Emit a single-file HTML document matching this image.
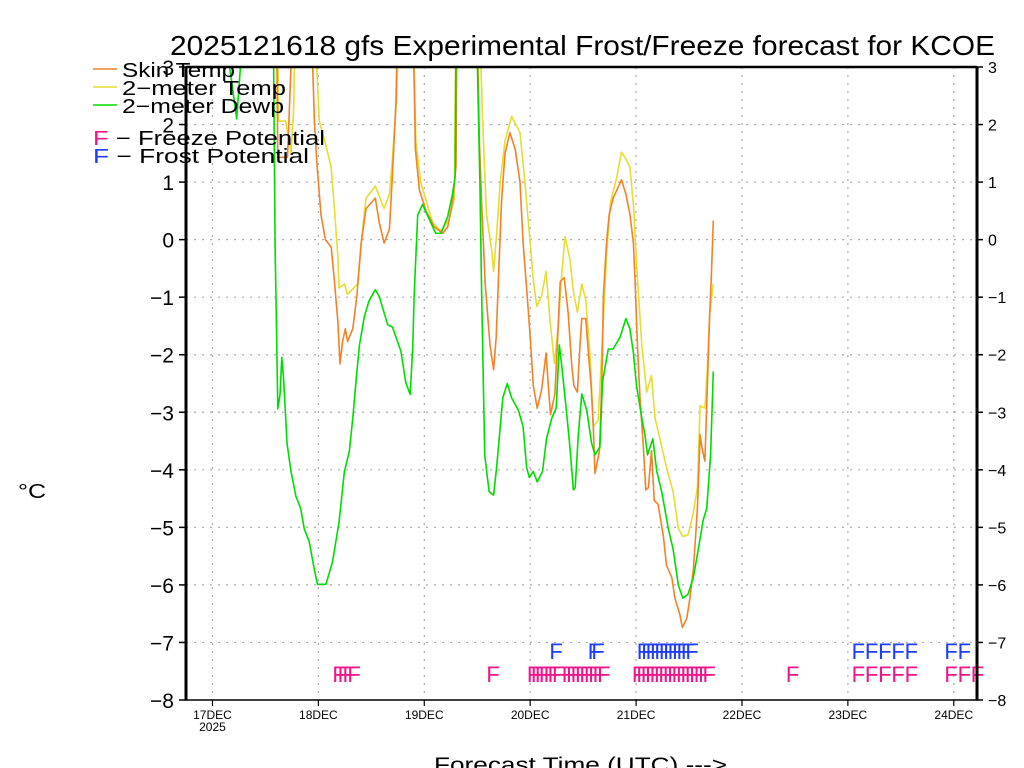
<!DOCTYPE html>
<html><head><meta charset="utf-8"><style>
html,body{margin:0;padding:0;background:#fff;}
svg{display:block;font-family:"Liberation Sans",sans-serif;}
</style></head><body>
<svg id="chart" width="1024" height="768" viewBox="0 0 1024 768">
<defs><clipPath id="plotclip"><rect x="186" y="67" width="791" height="633"/></clipPath></defs>
<text x="170" y="55" font-size="28" textLength="825" lengthAdjust="spacingAndGlyphs">2025121618 gfs Experimental Frost/Freeze forecast for KCOE</text>
<g id="grid"></g>
<g id="series" clip-path="url(#plotclip)"></g>
<g id="markers"></g>
<g id="axes"></g>
<text x="18" y="498" font-size="20" textLength="28" lengthAdjust="spacingAndGlyphs">°C</text>
<text x="434" y="772" font-size="21" textLength="293" lengthAdjust="spacingAndGlyphs">Forecast Time (UTC) ---&gt;</text>
<g>
<line x1="93" y1="69" x2="117" y2="69" stroke="#f08228" stroke-width="1.5"/>
<text x="122" y="77" font-size="20" textLength="113" lengthAdjust="spacingAndGlyphs">Skin Temp</text>
<line x1="93" y1="87" x2="117" y2="87" stroke="#e6dc32" stroke-width="1.5"/>
<text x="122" y="95" font-size="20" textLength="164" lengthAdjust="spacingAndGlyphs">2−meter Temp</text>
<line x1="93" y1="105" x2="117" y2="105" stroke="#00dc00" stroke-width="1.5"/>
<text x="122" y="113" font-size="20" textLength="162" lengthAdjust="spacingAndGlyphs">2−meter Dewp</text>
<text x="93" y="145" font-size="20" textLength="232" lengthAdjust="spacingAndGlyphs"><tspan fill="#f0148c">F</tspan> − Freeze Potential</text>
<text x="93" y="163" font-size="20" textLength="216" lengthAdjust="spacingAndGlyphs"><tspan fill="#1e3cff">F</tspan> − Frost Potential</text>
</g>
</svg>
<script>
const dayLabels = ["17DEC","18DEC","19DEC","20DEC","21DEC","22DEC","23DEC","24DEC"];
const dayHours = [6,30,54,78,102,126,150,174];
const yTicks = [3,2,1,0,-1,-2,-3,-4,-5,-6,-7,-8];
const dewHours = [9,11.5,12.8,19.8,20.2,20.5,20.8,21.3,21.7,22.1,22.6,22.9,23.8,24.9,26,26.8,27.9,29.1,29.8,31.7,33.2,34.7,35.9,37,37.8,38.5,39.3,40.4,41.5,42.9,43.8,45.7,46.8,48.7,49.8,50.8,51.4,51.7,52.5,53.6,55.1,56.6,57.8,59.3,60.4,61,61.2,65.9,66.6,67,67.4,67.7,68.7,69.7,70.4,71.2,71.8,72.8,73.8,75.3,76.4,77.2,77.8,78.7,79.6,80.8,81.7,82.9,83.9,84.6,85.1,86.1,87,87.8,88.2,88.9,89.7,90.8,91.9,92.7,93.8,94.4,95.7,96.8,98.4,99.7,100.6,101.4,102.1,103.3,104,104.6,105.8,106.7,107.8,109.3,110.4,111.6,112.6,113.8,115,116.1,117.2,118,118.9,119.5];
const dewVals = [3.5,2.1,3.5,3.5,-0.13,-1.55,-2.94,-2.7,-2.05,-2.4,-3.1,-3.54,-4.03,-4.46,-4.67,-5.03,-5.24,-5.74,-5.99,-5.99,-5.6,-4.9,-4.03,-3.68,-3.1,-2.48,-1.84,-1.34,-1.06,-0.87,-0.99,-1.48,-1.52,-1.94,-2.48,-2.69,-1.84,-0.99,0.43,0.61,0.36,0.11,0.11,0.4,0.79,1.1,3.5,3.5,1.0,-0.9,-2.55,-3.74,-4.38,-4.44,-3.96,-3.25,-2.75,-2.5,-2.75,-2.96,-3.25,-3.96,-4.13,-4.03,-4.21,-4.03,-3.46,-3.1,-2.93,-1.83,-2.15,-2.89,-3.6,-4.35,-4.31,-3.39,-2.68,-2.96,-3.53,-3.74,-3.6,-2.47,-1.9,-1.9,-1.69,-1.37,-1.55,-1.97,-2.54,-3.1,-3.39,-3.74,-3.46,-4.03,-4.38,-5.02,-5.38,-6.01,-6.23,-6.16,-5.87,-5.38,-4.88,-4.67,-3.74,-2.29];
const skinHours = [20.5,20.8,22,23,24.3,28.3,29.1,29.7,30.6,31.6,32.9,33.6,34.4,34.9,35.5,36.1,36.6,37.8,38.7,39.7,40.8,42.9,43.8,44.9,46.1,46.8,47.6,48,51.4,52,52.9,54.4,56.3,58.2,59.3,60.4,61.2,61.4,65.9,66.5,67,67.8,68.9,69.7,70.3,70.8,71.5,72.3,73.4,74.6,75.7,76.4,77.2,78,78.7,79.6,80.6,81.6,82.1,82.6,83.6,84.2,84.8,85.7,86.6,87.4,87.9,88.7,89.3,89.7,90.6,91.2,91.8,92.3,92.7,93.7,94.2,94.6,95.3,95.9,96.8,97.7,98.7,99.7,100.6,101.4,101.8,102.3,102.9,103.6,104.2,104.8,105.5,106.1,107,108.2,108.9,110.1,110.8,111.9,112.5,113.5,114.2,115,115.9,116.5,116.9,117.6,118,118.6,119.1,119.5];
const skinVals = [4,1.43,1.43,1.43,4,4,2.06,1.28,0.43,0,-0.13,-0.7,-1.41,-2.16,-1.77,-1.55,-1.77,-1.55,-0.99,-0.06,0.54,0.72,0.29,-0.06,0.18,1.14,2.42,4,4,1.57,0.86,0.5,0.22,0.11,0.22,0.65,1.28,4,4,1.7,0.65,-0.77,-1.83,-2.26,-1.69,-0.7,0.65,1.5,1.86,1.57,1.0,-0.06,-0.84,-1.69,-2.54,-2.93,-2.61,-1.97,-2.54,-3.04,-2.68,-1.76,-0.73,-0.66,-1.26,-2.18,-2.54,-2.65,-1.83,-1.37,-1.37,-1.97,-2.54,-3.25,-4.06,-3.67,-2.54,-0.98,-0.06,0.44,0.72,0.87,1.04,0.79,0.44,-0.06,-0.77,-1.83,-2.75,-3.53,-4.35,-4.31,-3.67,-4.53,-4.6,-5.16,-5.66,-5.87,-6.23,-6.51,-6.74,-6.58,-6.23,-5.73,-4.67,-3.39,-3.6,-3.85,-2.89,-1.48,-0.55,0.33];
const tempHours = [20.7,21,22.6,23.8,24.4,24.8,29,30.2,31.7,32.9,33.6,34.4,34.7,35.9,36.6,38.9,39.7,40.8,42.9,44.9,46.1,46.8,47.7,48.3,51.4,52.1,53.2,55.9,57.8,59.7,60.8,61.2,66.4,67.4,68.1,69.3,69.7,70.4,71.2,72.3,73.8,75.7,76.8,78,78.7,79.5,80.6,81.6,82.5,83.5,84.4,85,85.9,87,87.8,88.7,89.7,90.6,91.6,92.3,93.4,94.4,95.3,96.2,97.6,98.7,99.5,100.6,101.5,102.1,103.3,104.4,105.5,106.3,107.4,108.9,110.4,111.6,112.6,113.8,115,115.9,116.5,117.6,118.1,118.7,119.5];
const tempVals = [4,2.06,2.06,1.5,2.28,4,4,2.06,1.64,1.25,0.57,-0.28,-0.84,-0.77,-0.95,-0.77,-0.06,0.72,0.93,0.54,0.79,1.43,2.42,4,4,1.7,1.0,0.29,0.15,0.36,0.72,4,4,1.72,0.44,-0.2,-0.55,0.09,1.0,1.72,2.14,1.86,1.0,-0.06,-0.7,-1.16,-0.98,-0.55,-1.4,-2.15,-1.48,-0.73,0.05,-0.34,-0.91,-1.26,-0.77,-1.05,-2.04,-3.25,-3.14,-1.69,-0.27,0.65,1.08,1.52,1.43,1.26,0.51,-0.41,-1.83,-2.65,-2.36,-3.1,-3.46,-3.96,-4.38,-5.02,-5.16,-5.13,-4.74,-4.31,-2.89,-2.93,-2.33,-1.26,-0.77];
const freezeHours = [33.5,34.7,35.8,36.9,68.4,77.6,78.5,79.4,80.3,81.4,82.3,83.3,85.5,86.5,87.5,88.5,89.5,90.5,91.5,92.5,93.5,101.4,102.4,103.4,104.4,105.4,106.4,107.4,108.4,109.4,110.4,111.4,112.4,113.4,114.4,115.4,116.4,117.4,136.3,151.2,154.2,157.2,160.2,163.2,172.2,175.2,178.2];
const frostHours = [82.7,91.4,92.2,102.5,103.5,104.5,105.5,106.5,107.5,108.5,109.5,110.5,111.5,112.5,113.5,151.2,154.2,157.2,160.2,163.2,172.2,175.2];

const NS = "http://www.w3.org/2000/svg";
const X0 = 186, PXH = 4.4125, Y0 = 67, PXV = 57.545, XR = 977, YB = 700;
function xs(h){ return X0 + h*PXH; }
function ys(v){ return Y0 + (3 - v)*PXV; }
function mk(tag, attrs, parent){ const e = document.createElementNS(NS, tag); for (const k in attrs) e.setAttribute(k, attrs[k]); parent.appendChild(e); return e; }

const grid = document.getElementById('grid');
yTicks.forEach(v => {
  if (v === 3 || v === -8) return;
  const l = mk('line', {x1:X0, x2:XR, y1:ys(v), y2:ys(v), stroke:'#aaa', 'stroke-width':1.2, 'stroke-dasharray':'2,6'}, grid);
  
  
});
dayHours.forEach(h => {
  const l = mk('line', {x1:xs(h), x2:xs(h), y1:Y0, y2:YB, stroke:'#aaa', 'stroke-width':1.2, 'stroke-dasharray':'2,6'}, grid);
  
  
});

const series = document.getElementById('series');
function drawLine(hours, vals, color, name){
  const pts = hours.map((h,i) => xs(h).toFixed(1) + ',' + ys(vals[i]).toFixed(1)).join(' ');
  const p = mk('polyline', {points:pts, fill:'none', stroke:color, 'stroke-width':1.6, 'stroke-linejoin':'round'}, series);
  
  
}
drawLine(tempHours, tempVals, '#e6dc32', '2m-temp-line');
drawLine(skinHours, skinVals, '#f08228', 'skin-temp-line');
drawLine(dewHours, dewVals, '#00dc00', '2m-dewp-line');

const markers = document.getElementById('markers');
freezeHours.forEach(h => {
  const t = mk('text', {x:xs(h)-1.5, y:682, fill:'#f0148c', 'font-size':22}, markers);
  t.textContent = 'F';
  
  
});
frostHours.forEach(h => {
  const t = mk('text', {x:xs(h)-1.5, y:659, fill:'#1e3cff', 'font-size':22}, markers);
  t.textContent = 'F';
  
  
});

const axes = document.getElementById('axes');
const frame = mk('rect', {x:X0, y:Y0, width:XR-X0, height:YB-Y0, fill:'none', stroke:'#000', 'stroke-width':1.5}, axes);


const la = mk('line', {x1:X0, x2:X0, y1:Y0, y2:YB, stroke:'#000', 'stroke-width':3}, axes);


const ta = mk('line', {x1:X0, x2:XR, y1:Y0, y2:Y0, stroke:'#000', 'stroke-width':2.5}, axes);


const ra = mk('line', {x1:XR, x2:XR, y1:Y0, y2:YB, stroke:'#000', 'stroke-width':3}, axes);


yTicks.forEach(v => {
  const y = ys(v);
  const lab = v < 0 ? '−' + Math.abs(v) : String(v);
  const tl = mk('line', {x1:X0-7, x2:X0, y1:y, y2:y, stroke:'#000', 'stroke-width':1.5}, axes);
  
  
  const tr = mk('line', {x1:XR, x2:XR+6, y1:y, y2:y, stroke:'#000', 'stroke-width':1.5}, axes);
  
  
  const t1 = mk('text', {x:174, y:y+8, 'text-anchor':'end', 'font-size':21}, axes);
  t1.textContent = lab;
  
  
  const t2 = mk('text', {x:988, y:y+6, 'font-size':16}, axes);
  t2.textContent = lab;
  
  
});
dayHours.forEach((h,i) => {
  const x = xs(h);
  const tk = mk('line', {x1:x, x2:x, y1:YB, y2:YB+6, stroke:'#000', 'stroke-width':1.2}, axes);
  
  
  const t = mk('text', {x:x, y:719, 'text-anchor':'middle', 'font-size':12}, axes);
  t.textContent = dayLabels[i];
  
  
});
const yr = mk('text', {x:xs(dayHours[0]), y:731, 'text-anchor':'middle', 'font-size':12}, axes);
yr.textContent = '2025';


</script>
</body></html>
